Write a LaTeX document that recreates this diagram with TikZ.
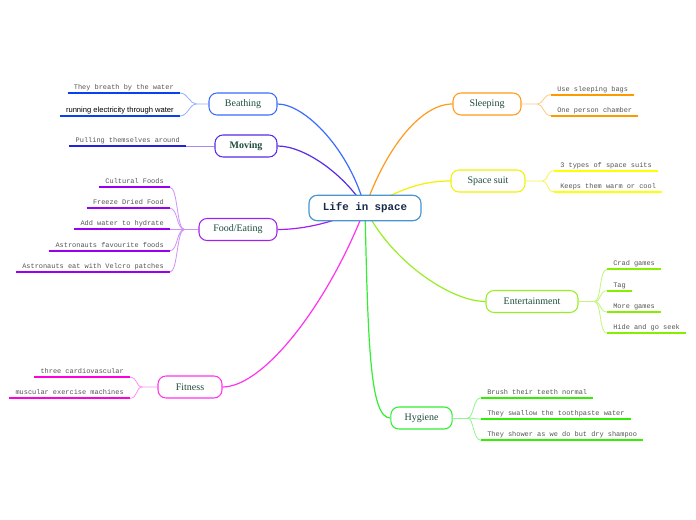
\documentclass[tikz,border=0pt]{standalone}
\usepackage{fontspec}
\setmainfont{Liberation Serif}
\newfontfamily\monof{Liberation Mono}
\newfontfamily\sansf{Liberation Sans}
\usetikzlibrary{backgrounds,calc}
\definecolor{cC}{HTML}{4A94D0}
\definecolor{cB}{HTML}{3B6CFF}
\definecolor{cBl}{HTML}{0A40F0}
\definecolor{cM}{HTML}{5A2BE8}
\definecolor{cMl}{HTML}{2020E0}
\definecolor{cF}{HTML}{A020F0}
\definecolor{cFl}{HTML}{9A00F0}
\definecolor{cFi}{HTML}{FF33EE}
\definecolor{cFil}{HTML}{FF00DD}
\definecolor{cS}{HTML}{FF9A1A}
\definecolor{cSl}{HTML}{FF9900}
\definecolor{cY}{HTML}{F2F200}
\definecolor{cYl}{HTML}{FFFF00}
\definecolor{cE}{HTML}{99EE22}
\definecolor{cEl}{HTML}{88EE00}
\definecolor{cH}{HTML}{33EE33}
\definecolor{cHl}{HTML}{33EE00}
\definecolor{topicgreen}{HTML}{1E4D3C}
\definecolor{leafgray}{HTML}{555555}
\definecolor{centraltext}{HTML}{1A2A4A}
\begin{document}
\begin{tikzpicture}[x=0.75pt,y=-0.75pt,
  central/.style={draw=cC, line width=0.9pt, fill=white, rounded corners=6pt,
    minimum width=84pt, minimum height=19pt, inner sep=0pt,
    font=\monof\bfseries\fontsize{8.1}{9}\selectfont, text=centraltext},
  topic/.style={draw, line width=0.8pt, fill=white, rounded corners=6pt,
    minimum height=16.5pt, inner sep=0pt,
    font=\fontsize{7.5}{8}\selectfont, text=topicgreen},
  leaf/.style={inner xsep=4.5pt, inner ysep=1.5pt, text height=4pt, text depth=1pt,
    font=\monof\fontsize{5.2}{6}\selectfont, text=leafgray},
  sansleaf/.style={leaf, font=\sansf\fontsize{5.7}{6}\selectfont, text=black},
  leafline/.style={line width=1.5pt},
  branch/.style={line width=0.6pt},
  conn/.style={line width=0.9pt}
]
\useasboundingbox (0,0) rectangle (696,520);

% central and topics
\node[central] (C) at (365,208) {Life in space};
\node[topic, minimum width=51pt, draw=cB] (B) at (243,104) {Beathing};
\node[topic, minimum width=46.5pt, draw=cM, font=\bfseries\fontsize{7.5}{8}\selectfont] (M) at (246,146) {Moving};
\node[topic, minimum width=58.5pt, draw=cF] (F) at (238,229.5) {Food/Eating};
\node[topic, minimum width=48pt, draw=cFi] (Fi) at (190,387) {Fitness};
\node[topic, minimum width=51pt, draw=cS] (S) at (487,104) {Sleeping};
\node[topic, minimum width=55.5pt, draw=cY] (Y) at (488,181) {Space suit};
\node[topic, minimum width=69pt, draw=cE] (E) at (532,301.5) {Entertainment};
\node[topic, minimum width=46pt, draw=cH] (H) at (421.5,418) {Hygiene};

% main connectors behind nodes
\begin{scope}[on background layer]
\fill[white] (0,0) rectangle (696,520);
\draw[conn, cB] (C.center) .. controls (350,150) and (305,104) .. (B.east);
\draw[conn, cM] (C.center) .. controls (345,175) and (305,146) .. (M.east);
\draw[conn, cF] (C.center) .. controls (335,222) and (305,229.5) .. (F.east);
\draw[conn, cFi] (C.center) .. controls (330,300) and (265,387) .. (Fi.east);
\draw[conn, cS] (C.center) .. controls (385,150) and (420,104) .. (S.west);
\draw[conn, cY] (C.center) .. controls (400,190) and (420,181) .. (Y.west);
\draw[conn, cE] (C.center) .. controls (390,260) and (450,301.5) .. (E.west);
\draw[conn, cH] (C.center) .. controls (368,345) and (370,418) .. (H.west);
\end{scope}

% Beathing leaves
\node[leaf, anchor=south east] (b1) at (180,93) {They breath by the water};
\node[sansleaf, anchor=south east] (b2) at (180,116) {running electricity through water};
\draw[leafline, cBl] (b1.south west) -- (b1.south east);
\draw[leafline, cBl] (b2.south west) -- (b2.south east);
\coordinate (bj) at ($(B.west)+(-12,0)$);
\draw[branch, cB!55] (B.west) -- (bj) .. controls +(-7,0) and +(8,0) .. (b1.south east);
\draw[branch, cB!55] (bj) .. controls +(-7,0) and +(8,0) .. (b2.south east);

% Moving leaf
\node[leaf, anchor=south east] (m1) at (186,146) {Pulling themselves around};
\draw[leafline, cMl] (m1.south west) -- (m1.south east);
\draw[branch, cM!55] (M.west) -- (m1.south east);

% Food leaves
\node[leaf, anchor=south east] (f1) at (170,187.3) {Cultural Foods};
\node[leaf, anchor=south east] (f2) at (170,208.3) {Freeze Dried Food};
\node[leaf, anchor=south east] (f3) at (170,229.5) {Add water to hydrate};
\node[leaf, anchor=south east] (f4) at (170,250.7) {Astronauts favourite foods};
\node[leaf, anchor=south east] (f5) at (170,272) {Astronauts eat with Velcro patches};
\foreach \n in {f1,f2,f3,f4,f5}{\draw[leafline, cFl] (\n.south west) -- (\n.south east);}
\coordinate (fj) at ($(F.west)+(-14,0)$);
\draw[branch, cF!50] (F.west) -- (fj);
\foreach \n in {f1,f2,f3,f4,f5}{\draw[branch, cF!50] (fj) .. controls +(-8,0) and +(8,0) .. (\n.south east);}

% Fitness leaves
\node[leaf, anchor=south east] (x1) at (130,377.3) {three cardiovascular};
\node[leaf, anchor=south east] (x2) at (130,398.3) {muscular exercise machines};
\draw[leafline, cFil] (x1.south west) -- (x1.south east);
\draw[leafline, cFil] (x2.south west) -- (x2.south east);
\coordinate (xj) at ($(Fi.west)+(-15,0)$);
\draw[branch, cFi!55] (Fi.west) -- (xj) .. controls +(-7,0) and +(8,0) .. (x1.south east);
\draw[branch, cFi!55] (xj) .. controls +(-7,0) and +(8,0) .. (x2.south east);

% Sleeping leaves
\node[leaf, anchor=south west] (s1) at (551,94.7) {Use sleeping bags};
\node[leaf, anchor=south west] (s2) at (551,115.7) {One person chamber};
\draw[leafline, cSl] (s1.south west) -- (s1.south east);
\draw[leafline, cSl] (s2.south west) -- (s2.south east);
\coordinate (sj) at ($(S.east)+(16,0)$);
\draw[branch, cS!55] (S.east) -- (sj) .. controls +(6,0) and +(-8,0) .. (s1.south west);
\draw[branch, cS!55] (sj) .. controls +(6,0) and +(-8,0) .. (s2.south west);

% Space suit leaves
\node[leaf, anchor=south west] (y1) at (554,170.7) {3 types of space suits};
\node[leaf, anchor=south west] (y2) at (554,191.7) {Keeps them warm or cool};
\draw[leafline, cYl] (y1.south west) -- (y1.south east);
\draw[leafline, cYl] (y2.south west) -- (y2.south east);
\coordinate (yj) at ($(Y.east)+(17,0)$);
\draw[branch, cY!70] (Y.east) -- (yj) .. controls +(6,0) and +(-8,0) .. (y1.south west);
\draw[branch, cY!70] (yj) .. controls +(6,0) and +(-8,0) .. (y2.south west);

% Entertainment leaves
\node[leaf, anchor=south west] (e1) at (607,269.3) {Crad games};
\node[leaf, anchor=south west] (e2) at (607,290.7) {Tag};
\node[leaf, anchor=south west] (e3) at (607,312) {More games};
\node[leaf, anchor=south west] (e4) at (607,333.3) {Hide and go seek};
\foreach \n in {e1,e2,e3,e4}{\draw[leafline, cEl] (\n.south west) -- (\n.south east);}
\coordinate (ej) at ($(E.east)+(16,0)$);
\draw[branch, cE!60] (E.east) -- (ej);
\foreach \n in {e1,e2,e3,e4}{\draw[branch, cE!60] (ej) .. controls +(7,0) and +(-8,0) .. (\n.south west);}

% Hygiene leaves
\node[leaf, anchor=south west] (h1) at (481,397.7) {Brush their teeth normal};
\node[leaf, anchor=south west] (h2) at (481,419) {They swallow the toothpaste water};
\node[leaf, anchor=south west] (h3) at (481,440.3) {They shower as we do but dry shampoo};
\foreach \n in {h1,h2,h3}{\draw[leafline, cHl] (\n.south west) -- (\n.south east);}
\coordinate (hj) at ($(H.east)+(15,0)$);
\draw[branch, cH!55] (H.east) -- (hj);
\foreach \n in {h1,h2,h3}{\draw[branch, cH!55] (hj) .. controls +(6,0) and +(-8,0) .. (\n.south west);}
\end{tikzpicture}
\end{document}
